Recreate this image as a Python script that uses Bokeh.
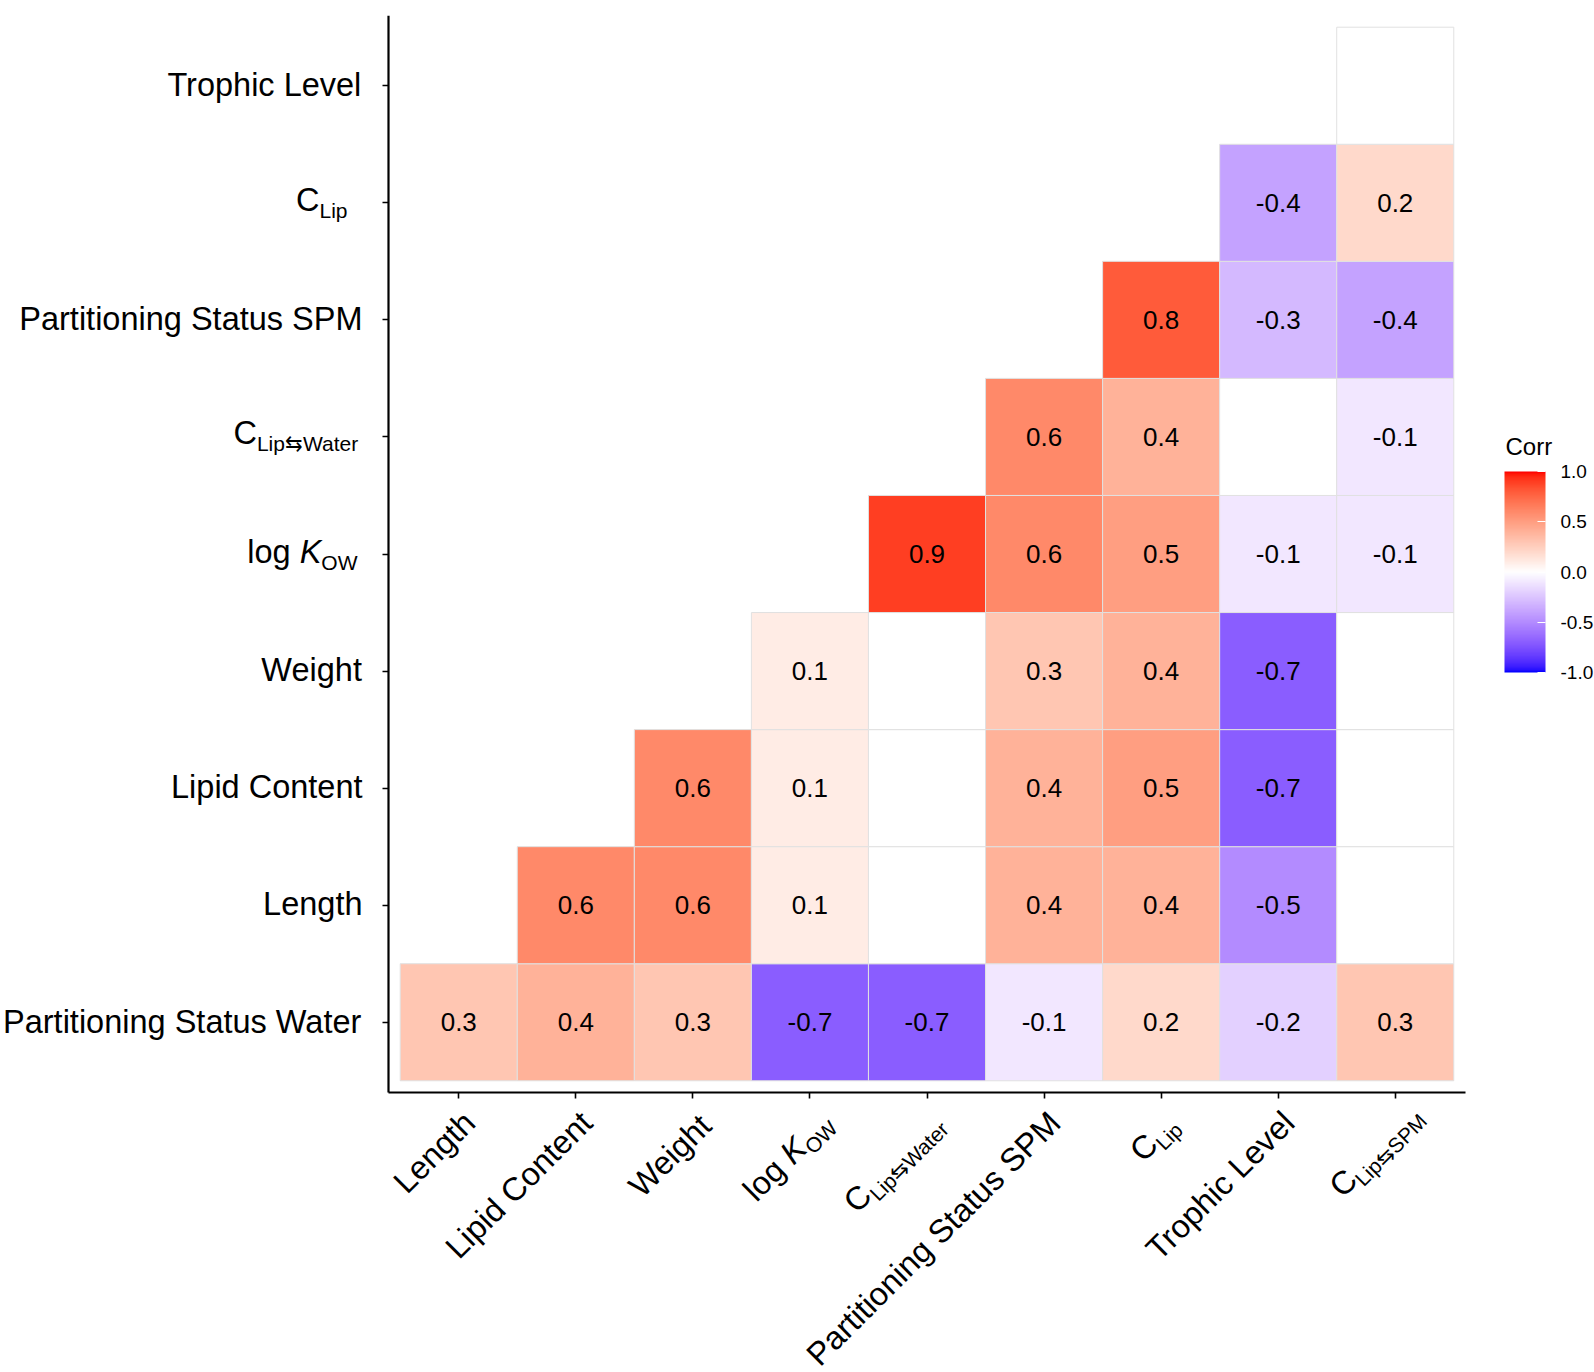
import re
import numpy as np
from bokeh.plotting import figure
from bokeh.models import (FixedTicker, Label, ColumnDataSource, LinearColorMapper,
                          ColorBar, NumeralTickFormatter)
from bokeh.core.properties import value
from bokeh.embed import file_html
from bokeh.resources import INLINE

# ---------------- data ----------------
# markup: *X* = italic, _{...} = subscript
x_labels = ["Length", "Lipid Content", "Weight", "log *K*_{OW}", "C_{Lip⇆Water}",
            "Partitioning Status SPM", "C_{Lip}", "Trophic Level", "C_{Lip⇆SPM}"]
y_labels = ["Partitioning Status Water", "Length", "Lipid Content", "Weight",
            "log *K*_{OW}", "C_{Lip⇆Water}", "Partitioning Status SPM", "C_{Lip}",
            "Trophic Level"]
nan = float("nan")
# row r (y_labels[r]) holds columns r..8 of x_labels; nan = blank (not shown)
row_0 = [0.3, 0.4, 0.3, -0.7, -0.7, -0.1, 0.2, -0.2, 0.3]
row_1 = [0.6, 0.6, 0.1, nan, 0.4, 0.4, -0.5, nan]
row_2 = [0.6, 0.1, nan, 0.4, 0.5, -0.7, nan]
row_3 = [0.1, nan, 0.3, 0.4, -0.7, nan]
row_4 = [0.9, 0.6, 0.5, -0.1, -0.1]
row_5 = [0.6, 0.4, nan, -0.1]
row_6 = [0.8, -0.3, -0.4]
row_7 = [-0.4, 0.2]
row_8 = [nan]
rows = [row_0, row_1, row_2, row_3, row_4, row_5, row_6, row_7, row_8]
legend_ticks = [-1.0, -0.5, 0.0, 0.5, 1.0]
legend_title = "Corr"

# ---------------- colour scale (ggplot gradient2 in Lab) ----------------
M = np.array([[0.4124564, 0.3575761, 0.1804375],
              [0.2126729, 0.7151522, 0.0721750],
              [0.0193339, 0.1191920, 0.9503041]])
WHITE = np.array([0.95047, 1.0, 1.08883])


def to_lab(hexc):
    c = np.array([int(hexc[i:i + 2], 16) for i in (1, 3, 5)]) / 255.0
    lin = np.where(c <= 0.04045, c / 12.92, ((c + 0.055) / 1.055) ** 2.4)
    t = (M @ lin) / WHITE
    d = 6 / 29
    f = np.where(t > d ** 3, np.cbrt(t), t / (3 * d * d) + 4 / 29)
    return np.array([116 * f[1] - 16, 500 * (f[0] - f[1]), 200 * (f[1] - f[2])])


def to_hex(lab):
    L, a, b = lab
    fy = (L + 16) / 116
    f = np.array([fy + a / 500, fy, fy - b / 200])
    d = 6 / 29
    t = np.where(f > d, f ** 3, 3 * d * d * (f - 4 / 29))
    lin = np.clip(np.linalg.inv(M) @ (t * WHITE), 0, 1)
    c = np.where(lin <= 0.0031308, 12.92 * lin, 1.055 * lin ** (1 / 2.4) - 0.055)
    r, g, bb = np.clip(np.round(c * 255), 0, 255).astype(int)
    return "#%02x%02x%02x" % (r, g, bb)


LOW, MID, HIGH = to_lab("#0000FF"), to_lab("#FFFFFF"), to_lab("#FF0000")


def corr_color(v):
    if v != v:
        return "#FFFFFF"
    if v >= 0:
        return to_hex(MID + (HIGH - MID) * v)
    return to_hex(MID + (LOW - MID) * (-v))


# ---------------- geometry (page pixels) ----------------
PANEL_L, PANEL_T = 388, 15     # heatmap panel left / top on the page
UNIT = 1077 / 9.2              # px per category
CANVAS_W, CANVAS_H = 1594, 1372
TOP_B, RIGHT_B = 15, 4
FW, FH = CANVAS_W - RIGHT_B, CANVAS_H - TOP_B   # frame covers the canvas
x0 = -0.6 - PANEL_L / UNIT
x1 = x0 + FW / UNIT
y1 = 8.6 + (PANEL_T - TOP_B) / UNIT
y0 = y1 - FH / UNIT
PANEL_B = PANEL_T + 1077       # page y of data y=-0.6
FRAME_B = TOP_B + FH           # page y of frame bottom

FONT = "Liberation Sans"
p = figure(x_range=(x0, x1), y_range=(y0, y1),
           frame_width=FW, frame_height=FH,
           x_axis_location="above", y_axis_location="right",
           min_border_left=0, min_border_top=TOP_B, min_border_right=RIGHT_B, min_border_bottom=0,
           output_backend="svg", toolbar_location=None, background_fill_color="white")
p.outline_line_color = None
p.xgrid.visible = False
p.ygrid.visible = False

for ax in (p.xaxis[0], p.yaxis[0]):
    ax.ticker = FixedTicker(ticks=list(range(9)))
    ax.bounds = (-0.6, 8.6)
    ax.fixed_location = -0.6
    ax.major_label_overrides = {i: "" for i in range(9)}
    ax.major_label_text_font_size = "1px"
    ax.major_label_standoff = 0
    ax.axis_line_width = 2.2
    ax.axis_line_color = "black"
    ax.major_tick_line_width = 1.6
    ax.major_tick_line_color = "black"
    ax.major_tick_out = 0
    ax.major_tick_in = 6
    ax.minor_tick_line_color = None

cx, cy, cfill, tx, ty, tt = [], [], [], [], [], []
for r, row in enumerate(rows):
    for k, v in enumerate(row):
        c = r + k
        cx.append(c)
        cy.append(r)
        cfill.append(corr_color(v))
        if v == v:
            tx.append(c)
            ty.append(r)
            tt.append(f"{v:.1f}")

p.rect(x="x", y="y", width=1, height=1, fill_color="fill", line_color="#E1E1E1",
       line_width=1, source=ColumnDataSource(dict(x=cx, y=cy, fill=cfill)))
p.text(x="x", y="y", text="t", source=ColumnDataSource(dict(x=tx, y=ty, t=tt)),
       text_font=value(FONT), text_font_size="26px", text_align="center",
       text_baseline="middle", text_color="black")

# ---------------- axis labels with subscripts ----------------
CW = {' ': 278, '-': 333, '.': 278, 'A': 667, 'B': 667, 'C': 722, 'D': 722, 'E': 667,
      'F': 611, 'G': 778, 'H': 722, 'I': 278, 'J': 500, 'K': 667, 'L': 556, 'M': 833,
      'N': 722, 'O': 778, 'P': 667, 'Q': 778, 'R': 722, 'S': 667, 'T': 611, 'U': 722,
      'V': 667, 'W': 944, 'X': 667, 'Y': 667, 'Z': 611, 'a': 556, 'b': 556, 'c': 500,
      'd': 556, 'e': 556, 'f': 278, 'g': 556, 'h': 556, 'i': 222, 'j': 222, 'k': 500,
      'l': 222, 'm': 833, 'n': 556, 'o': 556, 'p': 556, 'q': 556, 'r': 333, 's': 500,
      't': 278, 'u': 556, 'v': 500, 'w': 722, 'x': 500, 'y': 500, 'z': 500, '⇆': 838}
MAIN, SUB, SHIFT = 32.5, 21, 6
KFIX = 0.36    # label anchor sits ~0.36 em above the drawn baseline


def parse(lbl):
    out = []
    for m in re.finditer(r"\*([^*]+)\*|_\{([^}]*)\}|([^*_]+)", lbl):
        if m.group(1):
            out.append((m.group(1), MAIN, "italic", 0))
        elif m.group(2):
            out.append((m.group(2), SUB, "normal", SHIFT))
        else:
            out.append((m.group(3), MAIN, "normal", 0))
    return out


def width(txt, size):
    return sum(CW.get(ch, 556) for ch in txt) / 1000.0 * size


def add_text(x, y, t, xo, yo, size=MAIN, style="normal", align="left", angle=0.0):
    p.add_layout(Label(x=x, y=y, text=t, x_offset=xo, y_offset=yo, angle=angle,
                       text_font=FONT, text_font_size=f"{size}px", text_font_style=style,
                       text_align=align, text_baseline="alphabetic", text_color="black"))


y_right = {"log *K*_{OW}": 357, "C_{Lip⇆Water}": 358, "C_{Lip}": 347}
y_base = {"log *K*_{OW}": 10, "C_{Lip⇆Water}": 8, "C_{Lip}": 9}
for r, lbl in enumerate(y_labels):
    pieces = parse(lbl)
    total = sum(width(t, s) for t, s, _, _ in pieces)
    xpos = y_right.get(lbl, 362) - PANEL_L - total
    base = y_base.get(lbl, 11)
    for t, s, st, sh in pieces:
        add_text(-0.6, r, t, xpos, -(base + sh) + KFIX * s, s, st)
        xpos += width(t, s)

ANG = np.pi / 4
ca, sa = np.cos(ANG), np.sin(ANG)
x_end = {"log *K*_{OW}": (25, 1125), "C_{Lip⇆Water}": (19, 1126),
         "C_{Lip}": (19, 1127), "C_{Lip⇆SPM}": (29, 1118), "Weight": (21, 1128)}
for c, lbl in enumerate(x_labels):
    pieces = parse(lbl)
    dx, ey = x_end.get(lbl, (19, 1125))
    ey -= PANEL_B
    cum = 0.0
    for t, s, st, sh in reversed(pieces):
        px = dx - cum * ca + sh * sa - KFIX * s * sa
        py = ey + cum * sa + sh * ca - KFIX * s * ca
        add_text(c, -0.6, t, px, -py, s, st, "right", ANG)
        cum += width(t, s)

# ---------------- colour bar ----------------
pal = [corr_color(v) for v in np.linspace(-1, 1, 256)]
mapper = LinearColorMapper(palette=pal, low=-1, high=1)
BAR_L, BAR_B = 1504, 672
cb = ColorBar(color_mapper=mapper, location=(BAR_L, FRAME_B - BAR_B),
              orientation="vertical", width=41, height=201, padding=0, margin=0,
              ticker=FixedTicker(ticks=legend_ticks), formatter=NumeralTickFormatter(format="0.0"),
              major_label_text_font=FONT, major_label_text_font_size="19px",
              major_label_text_color="black", label_standoff=15,
              major_tick_line_color="white", major_tick_in=8, major_tick_out=0,
              minor_tick_line_color=None, bar_line_color=None, border_line_color=None,
              background_fill_color=None)
p.add_layout(cb)
add_text(-0.6, -0.6, legend_title, 1505 - PANEL_L, PANEL_B - 455 + KFIX * 24, 24)

open("out.html", "w").write(file_html(p, INLINE))
